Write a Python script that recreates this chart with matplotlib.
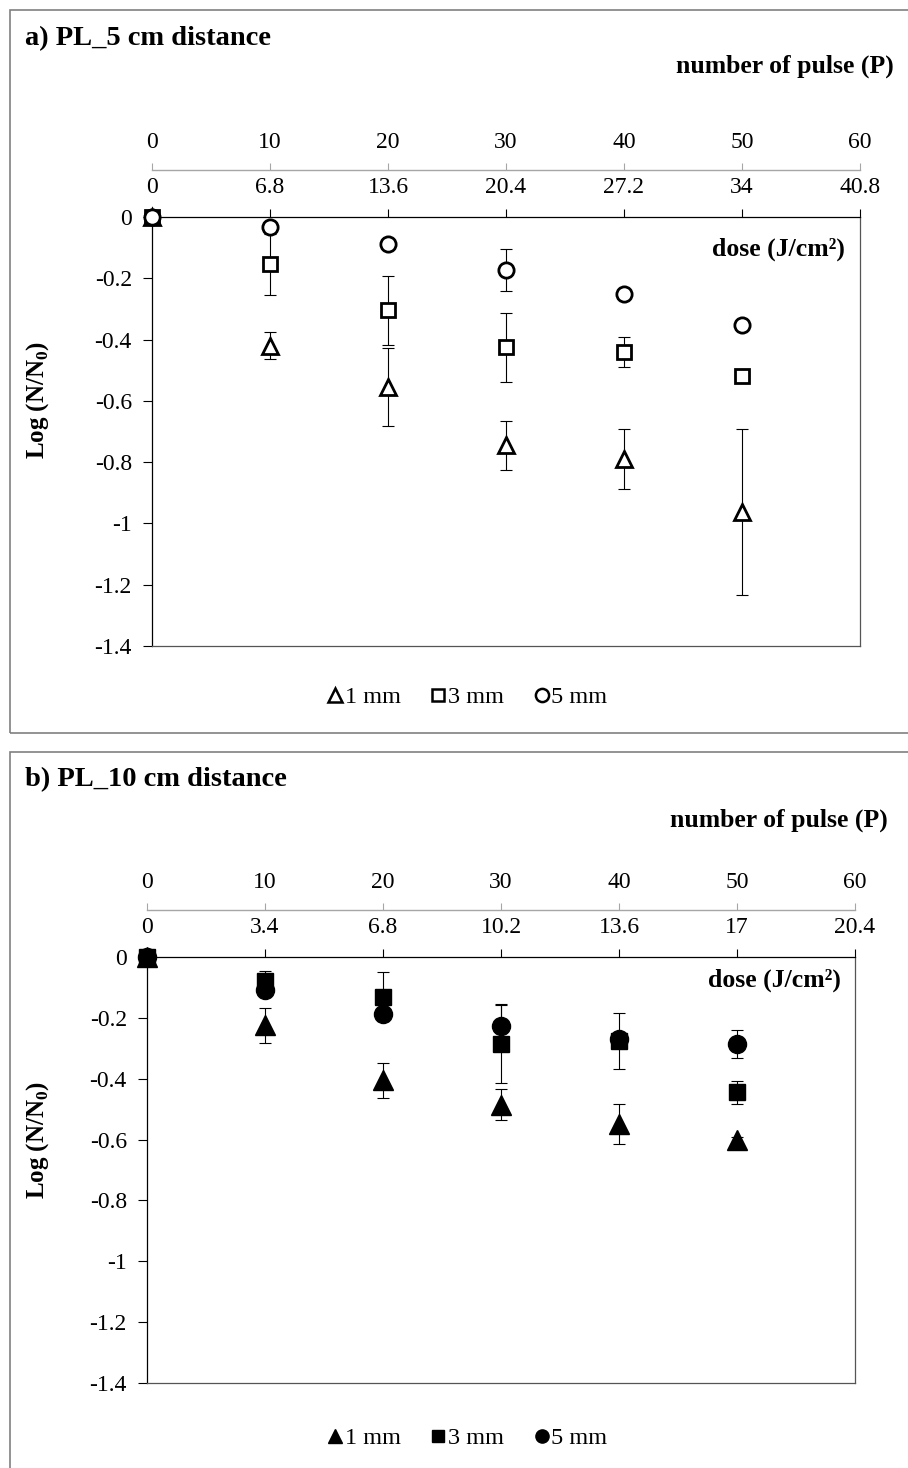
import matplotlib
matplotlib.use("Agg")
import matplotlib.pyplot as plt
from matplotlib.lines import Line2D
from matplotlib.patches import Rectangle

plt.rcParams['font.family'] = ['Liberation Serif', 'DejaVu Serif']
plt.rcParams['mathtext.fontset'] = 'custom'
plt.rcParams['mathtext.rm'] = 'Liberation Serif'
plt.rcParams['mathtext.bf'] = 'Liberation Serif:bold'
plt.rcParams['axes.unicode_minus'] = False

# data
pulses = [0, 10, 20, 30, 40, 50]
pulse_ticks = [0, 10, 20, 30, 40, 50, 60]
pulse_labels = ['0', '10', '20', '30', '40', '50', '60']
dose_a = ['0', '6.8', '13.6', '20.4', '27.2', '34', '40.8']
dose_b = ['0', '3.4', '6.8', '10.2', '13.6', '17', '20.4']
y_ticks = [0, -0.2, -0.4, -0.6, -0.8, -1.0, -1.2, -1.4]
y_labels = ['0', '-0.2', '-0.4', '-0.6', '-0.8', '-1', '-1.2', '-1.4']
sizes = ['1 mm', '3 mm', '5 mm']

a_1mm = [0, -0.42, -0.555, -0.745, -0.79, -0.963]
a_1mm_err = [0, 0.045, 0.127, 0.08, 0.098, 0.27]
a_3mm = [0, -0.155, -0.305, -0.425, -0.44, -0.52]
a_3mm_err = [0, 0.10, 0.114, 0.113, 0.048, 0.0]
a_5mm = [0, -0.033, -0.088, -0.173, -0.25, -0.352]
a_5mm_err = [0, 0.0, 0.0, 0.068, 0.0, 0.0]

b_1mm = [0, -0.225, -0.405, -0.485, -0.55, -0.60]
b_1mm_err = [0, 0.058, 0.058, 0.052, 0.066, 0.01]
b_3mm = [0, -0.08, -0.13, -0.285, -0.275, -0.445]
b_3mm_err = [0, 0.035, 0.08, 0.13, 0.092, 0.037]
b_5mm = [0, -0.11, -0.187, -0.227, -0.268, -0.286]
b_5mm_err = [0, 0.0, 0.0, 0.07, 0.0, 0.045]

W, H = 908, 1468


def fx(p):
    return p / W


def fy(p):
    return 1 - p / H


def make_panel(fig, left, right, top, bottom, dose_labels, series, filled):
    ax = fig.add_axes([fx(left), fy(bottom), fx(right - left), (bottom - top) / H])
    ax.set_xlim(0, 60)
    ax.set_ylim(-1.4, 0)
    ax.set_xticks(pulse_ticks)
    ax.set_xticklabels(dose_labels)
    ax.set_yticks(y_ticks)
    ax.set_yticklabels(y_labels)
    ax.xaxis.set_ticks_position('top')
    ax.tick_params(axis='x', direction='out', length=6, width=0.8, pad=8, labelsize=17)
    ax.tick_params(axis='y', direction='out', length=6.5, width=0.8, pad=8, labelsize=17)
    for s in ['left', 'top']:
        ax.spines[s].set_color('black')
        ax.spines[s].set_linewidth(0.9)
    for s in ['right', 'bottom']:
        ax.spines[s].set_color('#555555')
        ax.spines[s].set_linewidth(0.9)

    # number-of-pulse axis above the dose axis
    sec = ax.secondary_xaxis(1 + 47 / (bottom - top))
    sec.set_xticks(pulse_ticks)
    sec.set_xticklabels(pulse_labels)
    sec.spines['top'].set_color('#a6a6a6')
    sec.spines['top'].set_linewidth(1.0)
    sec.tick_params(axis='x', direction='out', length=5, width=0.8, color='#a6a6a6',
                    pad=7, labelsize=17)

    markers = ['^', 's', 'o']
    msizes = [12, 9.5, 11] if not filled else [14, 11, 13]
    for (vals, errs), m, ms in zip(series, markers, msizes):
        ax.errorbar(pulses, vals, yerr=errs, fmt='none', ecolor='black',
                    elinewidth=0.8, capsize=4, capthick=0.8, zorder=2, clip_on=False)
        ax.plot(pulses, vals, linestyle='none', marker=m, markersize=ms,
                markerfacecolor='black' if filled else 'white',
                markeredgecolor='black', markeredgewidth=1 if filled else 2,
                zorder=3, clip_on=False)
    return ax


fig = plt.figure(figsize=(W / 100, H / 100), dpi=100)

# panel frames
fig.patches.append(Rectangle((fx(10), fy(733)), 1.2, (733 - 10) / H, transform=fig.transFigure,
                             fill=False, edgecolor='#808080', linewidth=1.2))
fig.patches.append(Rectangle((fx(10), fy(1500)), 1.2, (1500 - 752) / H, transform=fig.transFigure,
                             fill=False, edgecolor='#808080', linewidth=1.2))

ax_a = make_panel(fig, 152, 860, 217, 646, dose_a,
                  [(a_1mm, a_1mm_err), (a_3mm, a_3mm_err), (a_5mm, a_5mm_err)], False)
ax_b = make_panel(fig, 147, 855, 957, 1383, dose_b,
                  [(b_1mm, b_1mm_err), (b_3mm, b_3mm_err), (b_5mm, b_5mm_err)], True)

# text
fig.text(fx(25), fy(39), 'a) PL_5 cm distance', fontsize=20.5, fontweight='bold', va='center')
fig.text(fx(25), fy(780), 'b) PL_10 cm distance', fontsize=20.5, fontweight='bold', va='center')
fig.text(fx(894), fy(66), 'number of pulse (P)', fontsize=18.5, fontweight='bold',
         ha='right', va='center')
fig.text(fx(888), fy(820), 'number of pulse (P)', fontsize=18.5, fontweight='bold',
         ha='right', va='center')
fig.text(fx(845), fy(249), 'dose (J/cm²)', fontsize=18.5, fontweight='bold', ha='right', va='center')
fig.text(fx(841), fy(980), 'dose (J/cm²)', fontsize=18.5, fontweight='bold', ha='right', va='center')
for yc in [400, 1140]:
    fig.text(fx(38), fy(yc), r'Log (N/N$_{\mathbf{0}}$)', fontsize=18, fontweight='bold',
             rotation=90, ha='center', va='center')

# legends
for ax, filled, yc in [(ax_a, False, 697), (ax_b, True, 1438)]:
    handles = [Line2D([], [], linestyle='none', marker=m, markersize=ms,
                      markerfacecolor='black' if filled else 'white',
                      markeredgecolor='black', markeredgewidth=1 if filled else 1.8)
               for m, ms in zip(['^', 's', 'o'], [10, 8.5, 9.5])]
    ax.legend(handles, sizes, loc='center', bbox_to_anchor=(fx(467), fy(yc)),
              bbox_transform=fig.transFigure, ncol=3, frameon=False, fontsize=17.5,
              handlelength=0.7, handletextpad=0.05, columnspacing=1.2)

fig.savefig('out.png', dpi=100)
